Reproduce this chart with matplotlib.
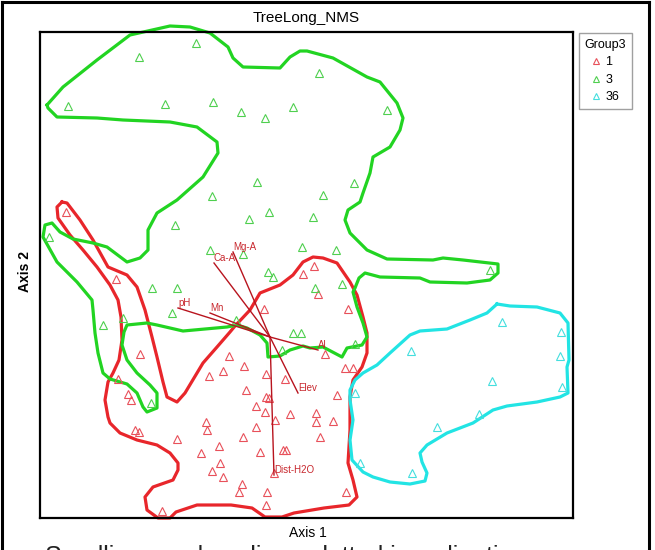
import matplotlib
matplotlib.use("Agg")
import numpy as np
import matplotlib.pyplot as plt
from matplotlib.lines import Line2D

plt.rcParams['font.family'] = ['Liberation Sans', 'DejaVu Sans']

# ordination scores (screen units, y grows downwards)
g1_x = [66, 116, 140, 118, 128, 131, 135, 139, 177, 162, 209, 223, 229, 244, 246, 266, 285, 266, 269,
        256, 265, 275, 290, 316, 316, 333, 320, 337, 325, 345, 353, 206, 207, 243, 256, 201, 219, 220,
        212, 223, 260, 283, 286, 274, 242, 239, 267, 266, 346, 348, 314, 303, 318, 264]
g1_y = [212, 279, 354, 379, 394, 400, 430, 432, 439, 511, 376, 371, 356, 366, 390, 374, 379, 397, 398,
        406, 412, 420, 414, 413, 422, 421, 437, 395, 354, 368, 368, 422, 430, 437, 427, 453, 446, 463,
        471, 477, 452, 450, 450, 473, 484, 492, 492, 505, 492, 309, 266, 274, 294, 309]

g3_x = [196, 139, 68, 165, 213, 241, 265, 293, 319, 387, 257, 212, 323, 354, 269, 249, 313, 175, 49,
        302, 336, 490, 315, 342, 210, 243, 268, 273, 152, 177, 172, 123, 103, 151, 293, 301, 282, 236, 355]
g3_y = [43, 57, 106, 104, 102, 112, 118, 107, 73, 110, 182, 196, 195, 183, 212, 219, 217, 225, 237,
        247, 250, 270, 288, 284, 250, 254, 272, 277, 288, 288, 313, 318, 325, 403, 333, 333, 350, 320, 344]

g36_x = [502, 561, 411, 560, 492, 562, 479, 437, 360, 412, 355]
g36_y = [322, 332, 351, 356, 381, 387, 414, 427, 463, 473, 393]

# group outlines
hull1_x = [62, 67, 80, 93, 108, 127, 137, 145, 152, 157, 163, 167, 177, 185, 203, 217, 230, 235, 250, 260,
           280, 293, 303, 313, 323, 337, 350, 357, 363, 367, 367, 362, 353, 350, 350, 348, 353, 357, 349,
           324, 294, 282, 265, 252, 231, 197, 176, 170, 158, 147, 145, 153, 173, 178, 178, 170, 157, 137,
           120, 110, 108, 105, 108, 113, 119, 122, 121, 118, 110, 97, 83, 70, 58, 57, 62]
hull1_y = [202, 203, 220, 240, 267, 275, 287, 310, 337, 357, 382, 397, 402, 393, 363, 347, 332, 326, 310, 293,
           285, 275, 262, 257, 258, 263, 282, 295, 317, 333, 353, 367, 380, 397, 430, 463, 480, 497, 505,
           508, 513, 517, 517, 508, 505, 505, 512, 518, 518, 510, 497, 487, 480, 470, 463, 453, 445, 440,
           433, 423, 417, 400, 382, 373, 360, 340, 317, 300, 285, 267, 250, 235, 218, 207, 202]

hull3_x = [47, 63, 97, 130, 170, 190, 210, 228, 233, 243, 280, 290, 300, 307, 333, 367, 380, 397, 403, 400,
           390, 373, 370, 363, 360, 348, 345, 350, 367, 387, 433, 443, 463, 498, 498, 490, 467, 430, 420,
           380, 365, 359, 355, 353, 357, 363, 367, 362, 347, 342, 323, 310, 303, 290, 280, 268, 267, 260,
           247, 237, 227, 183, 157, 147, 127, 124, 122, 127, 137, 150, 157, 157, 147, 143, 137, 127, 110,
           103, 98, 95, 93, 92, 77, 57, 43, 45, 52, 60, 73, 93, 107, 127, 140, 148, 148, 157, 177, 203,
           218, 217, 197, 170, 123, 97, 57, 48, 47]
hull3_y = [105, 87, 60, 35, 26, 27, 33, 47, 58, 67, 68, 57, 51, 51, 58, 77, 82, 103, 118, 130,
           147, 157, 173, 193, 202, 210, 220, 233, 250, 259, 260, 258, 260, 264, 273, 280, 283, 282, 278,
           277, 273, 278, 288, 292, 307, 323, 337, 345, 348, 357, 347, 348, 346, 350, 356, 357, 343, 335,
           328, 325, 327, 331, 325, 323, 325, 332, 345, 360, 373, 385, 393, 408, 412, 407, 393, 384, 379,
           373, 353, 333, 310, 300, 282, 262, 237, 225, 223, 232, 239, 243, 247, 262, 258, 250, 230, 213,
           200, 177, 153, 142, 127, 122, 120, 118, 117, 108, 105]

hull36_x = [497, 510, 537, 560, 568, 569, 567, 568, 560, 537, 507, 493, 473, 447, 427, 420, 422, 427, 425,
            410, 390, 373, 363, 352, 350, 353, 350, 350, 355, 363, 377, 390, 410, 420, 447, 470, 487, 497]
hull36_y = [304, 306, 307, 313, 323, 360, 367, 393, 397, 402, 406, 410, 423, 433, 445, 453, 462, 473, 481,
            484, 482, 477, 472, 460, 440, 420, 400, 390, 380, 373, 365, 353, 335, 331, 329, 320, 313, 304]

# joint plot vectors
centre = (270, 337)
vec_names = ['Mg-A', 'Ca-A', 'pH', 'Mn', 'Al', 'Elev', 'Dist-H2O']
vec_x = [233, 214, 178, 210, 318, 298, 274]
vec_y = [252, 263, 308, 313, 350, 393, 475]

groups = ['1', '3', '36']
colors = ['#e8262b', '#22d422', '#22e4e4']
point_colors = ['#e8505a', '#4fcf4f', '#44dede']

fig = plt.figure(figsize=(6.55, 5.5), dpi=100)
ax = fig.add_axes([40 / 655, 32 / 550, 533 / 655, 486 / 550])
ax.set_xlim(40, 573)
ax.set_ylim(518, 32)
ax.set_xticks([])
ax.set_yticks([])
for s in ax.spines.values():
    s.set_linewidth(1.6)

for hx, hy, c in zip([hull1_x, hull3_x, hull36_x], [hull1_y, hull3_y, hull36_y], colors):
    ax.plot(hx, hy, color=c, lw=2.3, solid_joinstyle='round', clip_on=False, zorder=2)

for px, py, c in zip([g1_x, g3_x, g36_x], [g1_y, g3_y, g36_y], point_colors):
    ax.plot(px, py, ls='none', marker='^', ms=6, mfc='none', mec=c, mew=0.8, zorder=3)

for name, vx, vy in zip(vec_names, vec_x, vec_y):
    ax.plot([centre[0], vx], [centre[1], vy], color='#b8141e', lw=1.0, zorder=4)
    ax.text(vx, vy, name, color='#c8282e', fontsize=7, ha='left', va='bottom', zorder=5)

ax.set_title('TreeLong_NMS', fontsize=11, pad=7)
fig.text(308 / 655, 1 - 533 / 550, 'Axis 1', fontsize=10, ha='center', va='center')
fig.text(25 / 655, 1 - 272 / 550, 'Axis 2', fontsize=10, fontweight='bold', rotation=90,
         ha='center', va='center')

handles = [Line2D([], [], ls='none', marker='^', ms=5, mfc='none', mec=c, mew=0.8) for c in point_colors]
leg = fig.legend(handles, groups, title='Group3', loc='upper left',
                 bbox_to_anchor=(579 / 655, 1 - 33 / 550), fontsize=9, title_fontsize=9,
                 frameon=True, fancybox=False, edgecolor='#888888', handlelength=0.7,
                 handletextpad=0.4, borderpad=0.45, labelspacing=0.45, borderaxespad=0)
leg.get_frame().set_linewidth(1.0)

# outer frame of the page, cut at the bottom
fig.add_artist(Line2D([2 / 655, 2 / 655], [0, 1 - 2 / 550], color='black', lw=2.2))
fig.add_artist(Line2D([649 / 655, 649 / 655], [0, 1 - 2 / 550], color='black', lw=2.2))
fig.add_artist(Line2D([2 / 655, 649 / 655], [1 - 2 / 550, 1 - 2 / 550], color='black', lw=2.2))

# caption line below, only its top edge falls inside the page
fig.text(45 / 655, 1 - 545 / 550, 'Seedlings and saplings plotted in ordination space',
         fontsize=18, ha='left', va='top', color='#222222')

fig.savefig('out.png', dpi=100)
